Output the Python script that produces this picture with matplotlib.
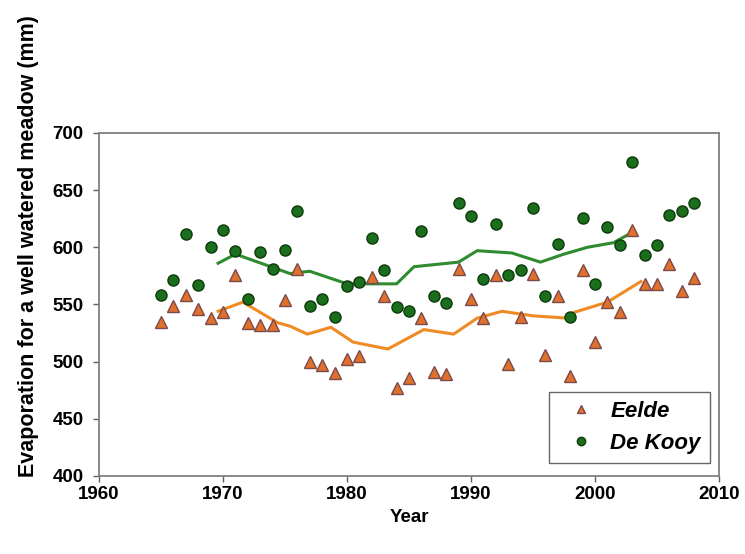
import matplotlib.pyplot as plt

plt.rcParams['font.family'] = ['Liberation Sans', 'DejaVu Sans']

years = list(range(1965, 2009))

# Eelde yearly evaporation (mm)
eelde = [535, 549, 558, 546, 538, 543, 576, 534, 532, 532,
         554, 581, 500, 497, 490, 502, 505, 574, 557, 477,
         486, 538, 491, 489, 581, 555, 538, 576, 498, 539,
         577, 506, 557, 487, 580, 517, 552, 543, 615, 568,
         568, 585, 562, 573]

# De Kooy yearly evaporation (mm)
dekooy = [558, 571, 612, 567, 600, 615, 597, 555, 596, 581,
          598, 632, 549, 555, 539, 566, 570, 608, 580, 548,
          544, 614, 557, 551, 639, 627, 572, 620, 576, 580,
          634, 557, 603, 539, 626, 568, 618, 602, 675, 593,
          602, 628, 632, 639]

# smoothed curves
eelde_line_x = [1969.6, 1971.6, 1974.4, 1975.4, 1976.8, 1978.7, 1980.5, 1983.3,
                1986.2, 1988.6, 1990.5, 1992.5, 1995.0, 1997.8, 1998.3, 2001.0, 2003.7]
eelde_line_y = [544, 552, 534, 531, 524, 530, 517, 511,
                528, 524, 538, 544, 540, 538, 543, 552, 570]

dekooy_line_x = [1969.6, 1971.0, 1975.4, 1977.0, 1980.0, 1984.0, 1985.4, 1989.0,
                 1990.5, 1993.3, 1995.6, 1997.5, 1999.4, 2001.5, 2003.0]
dekooy_line_y = [586, 594, 577, 579, 568, 568, 583, 587,
                 597, 595, 587, 594, 600, 604, 613]

fig = plt.figure(figsize=(7.45, 5.54), dpi=100)
ax = fig.add_axes([0.133, 0.141, 0.832, 0.619])

ax.plot(dekooy_line_x, dekooy_line_y, color='#2e8b2e', lw=2.2, zorder=2)
ax.plot(eelde_line_x, eelde_line_y, color='#f08a24', lw=2.2, zorder=2)

ax.plot(years, eelde, linestyle='none', marker='^', markersize=8,
        markerfacecolor='#e0702c', markeredgecolor='#7a4a4a', markeredgewidth=1,
        label='Eelde', zorder=3)
ax.plot(years, dekooy, linestyle='none', marker='o', markersize=8,
        markerfacecolor='#1b6e1b', markeredgecolor='#0d3a0d', markeredgewidth=1,
        label='De Kooy', zorder=3)

ax.set_xlim(1960, 2010)
ax.set_ylim(400, 700)
ax.set_xticks(range(1960, 2011, 10))
ax.set_yticks(range(400, 701, 50))
ax.tick_params(direction='out', length=4, width=1, color='#606060', labelsize=13.5)
ax.tick_params(axis='y', pad=7)
for lbl in ax.get_xticklabels() + ax.get_yticklabels():
    lbl.set_fontweight('bold')
for sp in ax.spines.values():
    sp.set_color('#808080')
    sp.set_linewidth(1.3)

ax.set_xlabel('Year', fontsize=13.5, fontweight='bold', labelpad=4)
fig.text(0.038, 1 - 246 / 554, 'Evaporation for a well watered meadow (mm)',
         rotation=90, va='center', ha='center', fontsize=15.5, fontweight='bold')

leg = ax.legend(loc='lower right', bbox_to_anchor=(0.985, 0.038), borderaxespad=0,
                fancybox=False, edgecolor='#404040', handletextpad=0.25,
                handlelength=2.1, markerscale=0.75, borderpad=0.4, labelspacing=0.5,
                prop={'style': 'italic', 'weight': 'bold', 'size': 16})
leg.get_frame().set_linewidth(1)

plt.savefig('out.png', dpi=100)
